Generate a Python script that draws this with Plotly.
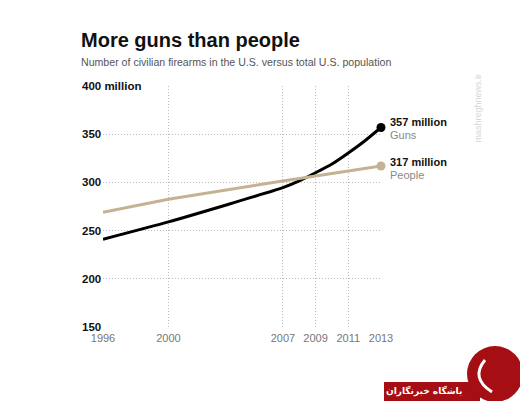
import plotly.graph_objects as go

# Data (millions)
gun_years = [1996, 2000, 2007, 2008, 2009, 2010, 2011, 2012, 2013]
guns = [241, 259, 294.5, 301.5, 310, 319, 330.5, 343, 357]
pop_years = [1996, 2000, 2007, 2009, 2011, 2012, 2013]
people = [269, 282.5, 301.5, 306.5, 311.5, 314, 317]

x_ticks = [1996, 2000, 2007, 2009, 2011, 2013]
y_ticks = [150, 200, 250, 300, 350, 400]
y_tick_labels = ["150", "200", "250", "300", "350", "400 million"]

GUN_C = "#000000"
POP_C = "#c6b293"
W, H = 520, 401

fig = go.Figure()
fig.add_trace(go.Scatter(x=gun_years, y=guns, mode="lines", line=dict(color=GUN_C, width=3, shape="spline", smoothing=0.5),
                         hoverinfo="skip", cliponaxis=False))
fig.add_trace(go.Scatter(x=pop_years, y=people, mode="lines", line=dict(color=POP_C, width=3),
                         hoverinfo="skip", cliponaxis=False))
fig.add_trace(go.Scatter(x=[gun_years[-1]], y=[guns[-1]], mode="markers", marker=dict(color=GUN_C, size=9),
                         hoverinfo="skip", cliponaxis=False))
fig.add_trace(go.Scatter(x=[pop_years[-1]], y=[people[-1]], mode="markers", marker=dict(color=POP_C, size=9),
                         hoverinfo="skip", cliponaxis=False))

FONT = "Liberation Sans, Arial"
ann = []
# y tick labels as left-aligned annotations
for v, lab in zip(y_ticks, y_tick_labels):
    ann.append(dict(xref="paper", yref="y", x=80 / W, y=v, text="<b>%s</b>" % lab, showarrow=False,
                    xanchor="left", yanchor="middle", bgcolor="white" if v == 400 else None,
                    font=dict(family=FONT, size=11.5, color="#111")))
# end labels
ann += [
    dict(xref="paper", yref="y", x=388 / W, y=guns[-1] + 6, text="<b>%d million</b>" % guns[-1], showarrow=False,
         xanchor="left", yanchor="middle", font=dict(family=FONT, size=11, color="#111")),
    dict(xref="paper", yref="y", x=388 / W, y=guns[-1] - 7.5, text="Guns", showarrow=False,
         xanchor="left", yanchor="middle", font=dict(family=FONT, size=11, color="#888")),
    dict(xref="paper", yref="y", x=388 / W, y=people[-1] + 4, text="<b>%d million</b>" % people[-1], showarrow=False,
         xanchor="left", yanchor="middle", font=dict(family=FONT, size=11, color="#111")),
    dict(xref="paper", yref="y", x=388 / W, y=people[-1] - 9.5, text="People", showarrow=False,
         xanchor="left", yanchor="middle", font=dict(family=FONT, size=11, color="#888")),
    # title / subtitle
    dict(xref="paper", yref="paper", x=79 / W, y=1 - 40 / H, text="<b>More guns than people</b>", showarrow=False,
         xanchor="left", yanchor="middle", font=dict(family=FONT, size=20, color="#111")),
    dict(xref="paper", yref="paper", x=79 / W, y=1 - 62 / H,
         text="Number of civilian firearms in the U.S. versus total U.S. population", showarrow=False,
         xanchor="left", yanchor="middle", font=dict(family=FONT, size=10.6, color="#555")),
    # watermarks
    dict(xref="paper", yref="paper", x=484 / W, y=1 - 72 / H, text="mashreghnews.ir", showarrow=False,
         textangle=-90, font=dict(family=FONT, size=9, color="#d8d8d8")),
    dict(xref="paper", yref="paper", x=424 / W, y=1 - 391 / H, text="<b>باشگاه خبرنگاران</b>", showarrow=False,
         xanchor="center", yanchor="middle", font=dict(family="DejaVu Sans", size=9, color="white")),
]

shapes = [
    dict(type="rect", xref="paper", yref="paper", x0=384 / W, x1=480 / W, y0=0, y1=1 - 382 / H,
         fillcolor="#a50e12", line=dict(width=0), layer="above"),
    dict(type="circle", xref="paper", yref="paper", x0=467 / W, x1=523 / W, y0=1 - 402 / H, y1=1 - 346 / H,
         fillcolor="#a50e12", line=dict(width=0), layer="above"),
    dict(type="path", xref="paper", yref="paper",
         path="M %f %f Q %f %f %f %f" % (485 / W, 1 - 360 / H, 470 / W, 1 - 378 / H, 492 / W, 1 - 392 / H),
         line=dict(color="white", width=3), layer="above"),
]

fig.update_layout(
    width=W, height=H, margin=dict(l=0, r=0, t=0, b=0, pad=0), autosize=False,
    paper_bgcolor="white", plot_bgcolor="white", showlegend=False,
    annotations=ann, shapes=shapes,
    xaxis=dict(domain=[103 / W, 381 / W], range=[1996, 2013], tickvals=x_ticks, automargin=False,
               ticktext=[str(t) for t in x_ticks], showgrid=True, gridcolor="#bdbdbd", griddash="1px,2px",
               gridwidth=1, zeroline=False, showline=False, ticks="", ticklabelstandoff=3,
               tickfont=dict(family=FONT, size=11, color="#777")),
    yaxis=dict(domain=[1 - 327 / H, 1 - 86 / H], range=[150, 400], tickvals=y_ticks, showticklabels=False,
               automargin=False, showgrid=True, gridcolor="#bdbdbd", griddash="1px,2px", gridwidth=1,
               zeroline=False, showline=False, ticks=""),
)

fig.write_html("out.html", config={"displayModeBar": False, "staticPlot": True},
               post_script="document.body.style.margin='0';document.body.style.overflow='hidden';")
